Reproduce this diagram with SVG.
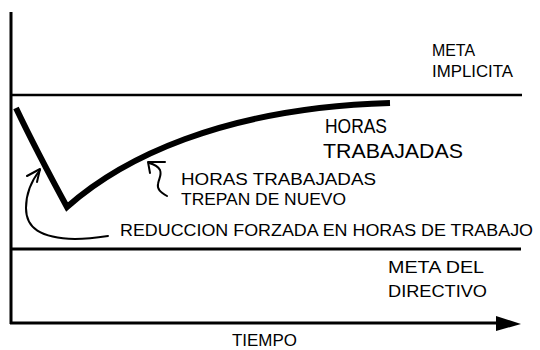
<svg xmlns="http://www.w3.org/2000/svg" width="540" height="350" viewBox="0 0 540 350">
<style>
.ax{stroke:#000;stroke-width:3;fill:none}
.ln{stroke:#000;stroke-width:2.5;fill:none}
.curve{stroke:#000;stroke-width:6;fill:none;stroke-linejoin:miter;stroke-linecap:butt}
.thin{stroke:#000;stroke-width:2;fill:none;stroke-linecap:round;stroke-linejoin:round}
text{font-family:"Liberation Sans",Arial,sans-serif;fill:#000}
.s{font-size:16px}
.b{font-size:20px}
</style>
<rect width="540" height="350" fill="#fff"/>
<g id="axes">
<line class="ax" x1="11" y1="12" x2="11" y2="324"/>
<line class="ax" x1="10" y1="323" x2="500" y2="323"/>
<polygon points="496,316 521,324 496,331" fill="#000"/>
<text class="s" x="232" y="346" textLength="65" lengthAdjust="spacingAndGlyphs">TIEMPO</text>
</g>
<g id="meta-implicita">
<line class="ln" x1="10" y1="95" x2="522" y2="95"/>
<text class="s" x="432" y="56" textLength="43" lengthAdjust="spacingAndGlyphs">META</text>
<text class="s" x="432" y="77" textLength="81" lengthAdjust="spacingAndGlyphs">IMPLICITA</text>
</g>
<g id="meta-directivo">
<line class="ax" x1="10" y1="249" x2="521" y2="249"/>
<text class="s" x="388" y="273" textLength="96" lengthAdjust="spacingAndGlyphs">META DEL</text>
<text class="s" x="388" y="297" textLength="99" lengthAdjust="spacingAndGlyphs">DIRECTIVO</text>
</g>
<g id="horas-trabajadas">
<path class="curve" d="M16,108 Q36,150 67,207 C120,160 220,108 390,103"/>
<text class="b" x="325" y="133" textLength="62" lengthAdjust="spacingAndGlyphs">HORAS</text>
<text class="b" x="323" y="158" textLength="140" lengthAdjust="spacingAndGlyphs">TRABAJADAS</text>
</g>
<g id="connectors">
<path class="thin" d="M167,196 C160,192 157,189 158,184 C159,178 162,175 160,170 C158,166 153,164 149,163"/>
<polyline class="thin" points="165,162 148,162 150,173"/>
<path class="thin" d="M108,236 C95,238 85,239 75,239 C40,238 26,228 26,208 C26,192 32,180 40,170"/>
<polyline class="thin" points="27,176 40,169 37,182"/>
</g>
<g id="trepan">
<text class="s" x="181" y="185" textLength="195" lengthAdjust="spacingAndGlyphs">HORAS TRABAJADAS</text>
<text class="s" x="181" y="205" textLength="165" lengthAdjust="spacingAndGlyphs">TREPAN DE NUEVO</text>
</g>
<g id="reduccion">
<text class="s" x="120" y="236" textLength="413" lengthAdjust="spacingAndGlyphs">REDUCCION FORZADA EN HORAS DE TRABAJO</text>
</g>
</svg>
